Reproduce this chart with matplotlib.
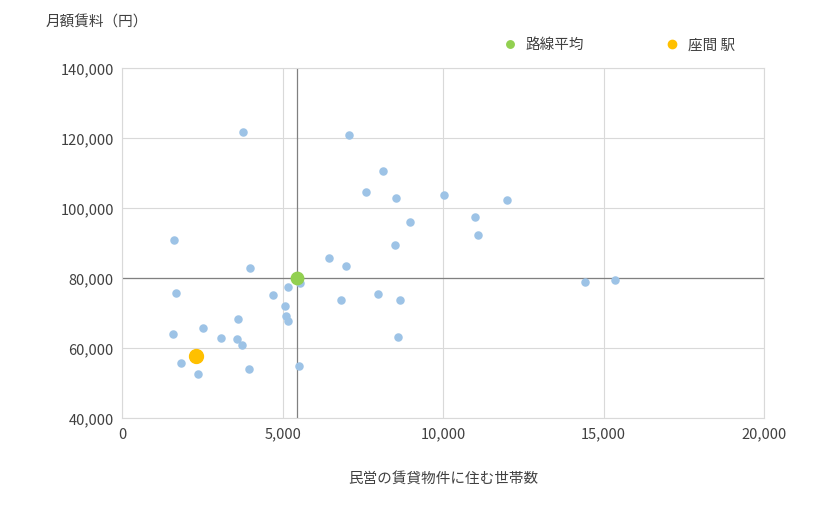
import matplotlib
matplotlib.use("Agg")
import matplotlib.pyplot as plt
from matplotlib.ticker import FuncFormatter

plt.rcParams['font.family'] = ['Noto Sans CJK JP', 'DejaVu Sans']

households = [3770, 7070, 8130, 7600, 8540, 10030, 11990, 11000, 8970, 11090, 1620, 8500,
              6450, 6980, 3990, 5550, 5170, 14420, 15360, 1680, 4700, 7980, 6820, 8660,
              5080, 5110, 5170, 3610, 2520, 1590, 3080, 3580, 3740, 8600, 1840, 5510, 3960, 2370]
rents = [121700, 120900, 110600, 104600, 102900, 103700, 102300, 97400, 96000, 92300, 90900, 89400,
         85700, 83400, 82900, 78600, 77400, 78900, 79400, 75700, 75100, 75400, 73700, 73700,
         72000, 69100, 67700, 68300, 65700, 64000, 62900, 62600, 60900, 63100, 55700, 54900, 54000, 52600]
avg_x, avg_y = 5450, 80000
st_x, st_y = 2300, 57700

fig = plt.figure(figsize=(8.2, 5.1), dpi=100)
ax = fig.add_axes([0.149, 0.178, 0.783, 0.687])
ax.set_xlim(0, 20000)
ax.set_ylim(40000, 140000)
ax.set_xticks(range(0, 20001, 5000))
ax.set_yticks(range(40000, 140001, 20000))
ax.grid(True, color='#d9d9d9', lw=0.8)
ax.set_axisbelow(True)
for s in ax.spines.values():
    s.set_color('#d9d9d9')
ax.tick_params(length=0, labelsize=10.5, colors='#404040', pad=6)
fmt = FuncFormatter(lambda v, p: f"{int(v):,}")
ax.xaxis.set_major_formatter(fmt)
ax.yaxis.set_major_formatter(fmt)
ax.axvline(avg_x, color='#808080', lw=0.9, zorder=1)
ax.axhline(avg_y, color='#808080', lw=0.9, zorder=1)
ax.scatter(households, rents, s=26, color='#9dc3e6', zorder=3)
ax.scatter([avg_x], [avg_y], s=80, color='#92d050', zorder=4, label='路線平均')
ax.scatter([st_x], [st_y], s=100, color='#ffc000', zorder=4, label='座間 駅')
ax.set_xlabel('民営の賃貸物件に住む世帯数', fontsize=10.5, color='#404040', labelpad=22)
fig.text(0.055, 0.955, '月額賃料（円）', fontsize=10.5, color='#404040', va='center')
ax.legend(loc='lower right', bbox_to_anchor=(0.975, 1.01), ncol=2, frameon=False,
          fontsize=10.5, handletextpad=0.1, columnspacing=5, markerscale=0.6,
          labelcolor='#404040')
fig.savefig('out.png', dpi=100)
